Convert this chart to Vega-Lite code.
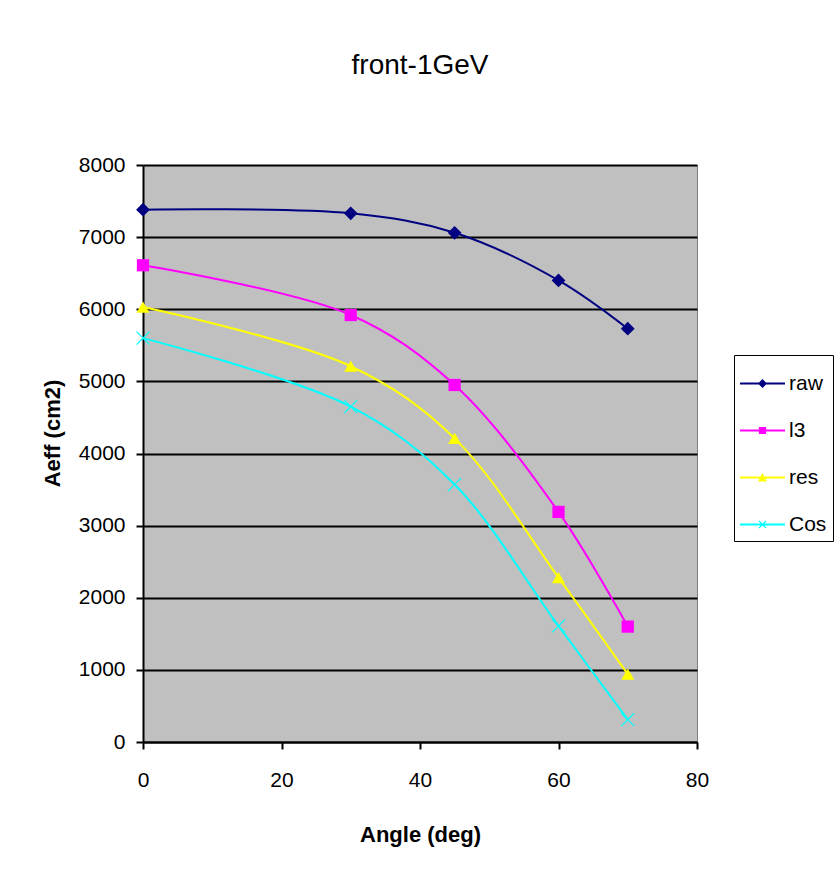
{
  "$schema": "https://vega.github.io/schema/vega-lite/v6.json",
  "width": 554,
  "height": 577,
  "autosize": "none",
  "padding": {"left": 143, "top": 165, "right": 142, "bottom": 153},
  "background": "white",
  "title": {
    "text": "front-1GeV",
    "font": "Liberation Sans",
    "fontSize": 28,
    "fontWeight": "normal",
    "color": "black",
    "anchor": "middle",
    "frame": "group",
    "baseline": "alphabetic",
    "offset": 52
  },
  "config": {
    "view": {"fill": "#C0C0C0", "stroke": "#808080", "strokeWidth": 1},
    "font": "Liberation Sans"
  },
  "data": {
    "values": [
      {"angle": 0, "series": "raw", "aeff": 7380},
      {"angle": 30, "series": "raw", "aeff": 7330},
      {"angle": 45, "series": "raw", "aeff": 7060},
      {"angle": 60, "series": "raw", "aeff": 6400},
      {"angle": 70, "series": "raw", "aeff": 5730},
      {"angle": 0, "series": "l3", "aeff": 6610},
      {"angle": 30, "series": "l3", "aeff": 5920},
      {"angle": 45, "series": "l3", "aeff": 4950},
      {"angle": 60, "series": "l3", "aeff": 3190},
      {"angle": 70, "series": "l3", "aeff": 1600},
      {"angle": 0, "series": "res", "aeff": 6030},
      {"angle": 30, "series": "res", "aeff": 5210},
      {"angle": 45, "series": "res", "aeff": 4210},
      {"angle": 60, "series": "res", "aeff": 2280},
      {"angle": 70, "series": "res", "aeff": 940},
      {"angle": 0, "series": "Cos", "aeff": 5600},
      {"angle": 30, "series": "Cos", "aeff": 4650},
      {"angle": 45, "series": "Cos", "aeff": 3570},
      {"angle": 60, "series": "Cos", "aeff": 1610},
      {"angle": 70, "series": "Cos", "aeff": 310}
    ]
  },
  "encoding": {
    "x": {
      "field": "angle",
      "type": "quantitative",
      "scale": {"domain": [0, 80], "nice": false, "zero": true},
      "axis": {
        "title": "Angle (deg)",
        "values": [0, 20, 40, 60, 80],
        "format": "d",
        "grid": false,
        "domainColor": "black",
        "domainWidth": 2,
        "tickColor": "black",
        "tickWidth": 2,
        "tickSize": 7,
        "labelFont": "Liberation Sans",
        "labelFontSize": 21,
        "labelColor": "black",
        "labelPadding": 20,
        "labelFlush": false,
        "titleFont": "Liberation Sans",
        "titleFontSize": 22,
        "titleFontWeight": "bold",
        "titleColor": "black",
        "titleBaseline": "top",
        "titleY": 82
      }
    },
    "y": {
      "field": "aeff",
      "type": "quantitative",
      "scale": {"domain": [0, 8000], "nice": false},
      "axis": {
        "title": "Aeff (cm2)",
        "values": [0, 1000, 2000, 3000, 4000, 5000, 6000, 7000, 8000],
        "format": "d",
        "grid": true,
        "gridColor": "black",
        "gridWidth": 2,
        "gridOpacity": 1,
        "domainColor": "black",
        "domainWidth": 2,
        "tickColor": "black",
        "tickWidth": 2,
        "tickSize": 7,
        "labelFont": "Liberation Sans",
        "labelFontSize": 21,
        "labelColor": "black",
        "labelPadding": 11,
        "labelFlush": false,
        "titleFont": "Liberation Sans",
        "titleFontSize": 22,
        "titleFontWeight": "bold",
        "titleColor": "black",
        "titleAngle": -90,
        "titleAlign": "center",
        "titleBaseline": "middle",
        "titleX": -91,
        "titleY": 268
      }
    },
    "color": {
      "field": "series",
      "type": "nominal",
      "scale": {
        "domain": ["raw", "l3", "res", "Cos"],
        "range": ["#000080", "#FF00FF", "#FFFF00", "#00FFFF"]
      },
      "legend": {
        "title": null,
        "orient": "none",
        "legendX": 591,
        "legendY": 190,
        "padding": 6,
        "rowPadding": 14,
        "strokeColor": "black",
        "fillColor": "white",
        "symbolSize": 2025,
        "symbolType": {"expr": "datum.value === 'raw' ? 'M-1,-0.045L1,-0.045L1,0.045L-1,0.045Z M0,-0.2L0.2,0L0,0.2L-0.2,0Z' : datum.value === 'l3' ? 'M-1,-0.045L1,-0.045L1,0.045L-1,0.045Z M-0.16,-0.16L0.16,-0.16L0.16,0.16L-0.16,0.16Z' : datum.value === 'res' ? 'M-1,-0.045L1,-0.045L1,0.045L-1,0.045Z M0,-0.2L0.2,0.18L-0.2,0.18Z' : 'M-1,-0.045L1,-0.045L1,0.045L-1,0.045Z M-0.18,-0.14L-0.14,-0.18L0,-0.04L0.14,-0.18L0.18,-0.14L0.04,0L0.18,0.14L0.14,0.18L0,0.04L-0.14,0.18L-0.18,0.14L-0.04,0Z'"},
        "labelFont": "Liberation Sans",
        "labelFontSize": 21,
        "labelColor": "black",
        "labelOffset": 4,
        "encode": {
          "symbols": {
            "update": {
              "shape": {"signal": "datum.value === 'raw' ? 'M-1,-0.045L1,-0.045L1,0.045L-1,0.045Z M0,-0.2L0.2,0L0,0.2L-0.2,0Z' : datum.value === 'l3' ? 'M-1,-0.045L1,-0.045L1,0.045L-1,0.045Z M-0.16,-0.16L0.16,-0.16L0.16,0.16L-0.16,0.16Z' : datum.value === 'res' ? 'M-1,-0.045L1,-0.045L1,0.045L-1,0.045Z M0,-0.2L0.2,0.18L-0.2,0.18Z' : 'M-1,-0.045L1,-0.045L1,0.045L-1,0.045Z M-0.18,-0.14L-0.14,-0.18L0,-0.04L0.14,-0.18L0.18,-0.14L0.04,0L0.18,0.14L0.14,0.18L0,0.04L-0.14,0.18L-0.18,0.14L-0.04,0Z'"},
              "fill": {"signal": "scale('color', datum.value)"},
              "fillOpacity": {"value": 1},
              "strokeWidth": {"value": 0},
              "opacity": {"value": 1}
            }
          }
        }
      }
    }
  },
  "layer": [
    {
      "mark": {"type": "line", "interpolate": "catmull-rom", "strokeWidth": 2}
    },
    {
      "transform": [{"filter": "datum.series === 'raw'"}],
      "mark": {"type": "point", "filled": true, "size": 190, "opacity": 1, "shape": "diamond"}
    },
    {
      "transform": [{"filter": "datum.series === 'l3'"}],
      "mark": {"type": "point", "filled": true, "size": 150, "opacity": 1, "shape": "square"}
    },
    {
      "transform": [{"filter": "datum.series === 'res'"}],
      "mark": {"type": "point", "filled": true, "size": 170, "opacity": 1, "shape": "triangle-up"}
    },
    {
      "transform": [{"filter": "datum.series === 'Cos'"}],
      "mark": {"type": "point", "filled": true, "size": 190, "opacity": 1, "shape": "M-1,-0.88L-0.88,-1L0,-0.12L0.88,-1L1,-0.88L0.12,0L1,0.88L0.88,1L0,0.12L-0.88,1L-1,0.88L-0.12,0Z"}
    }
  ]
}
